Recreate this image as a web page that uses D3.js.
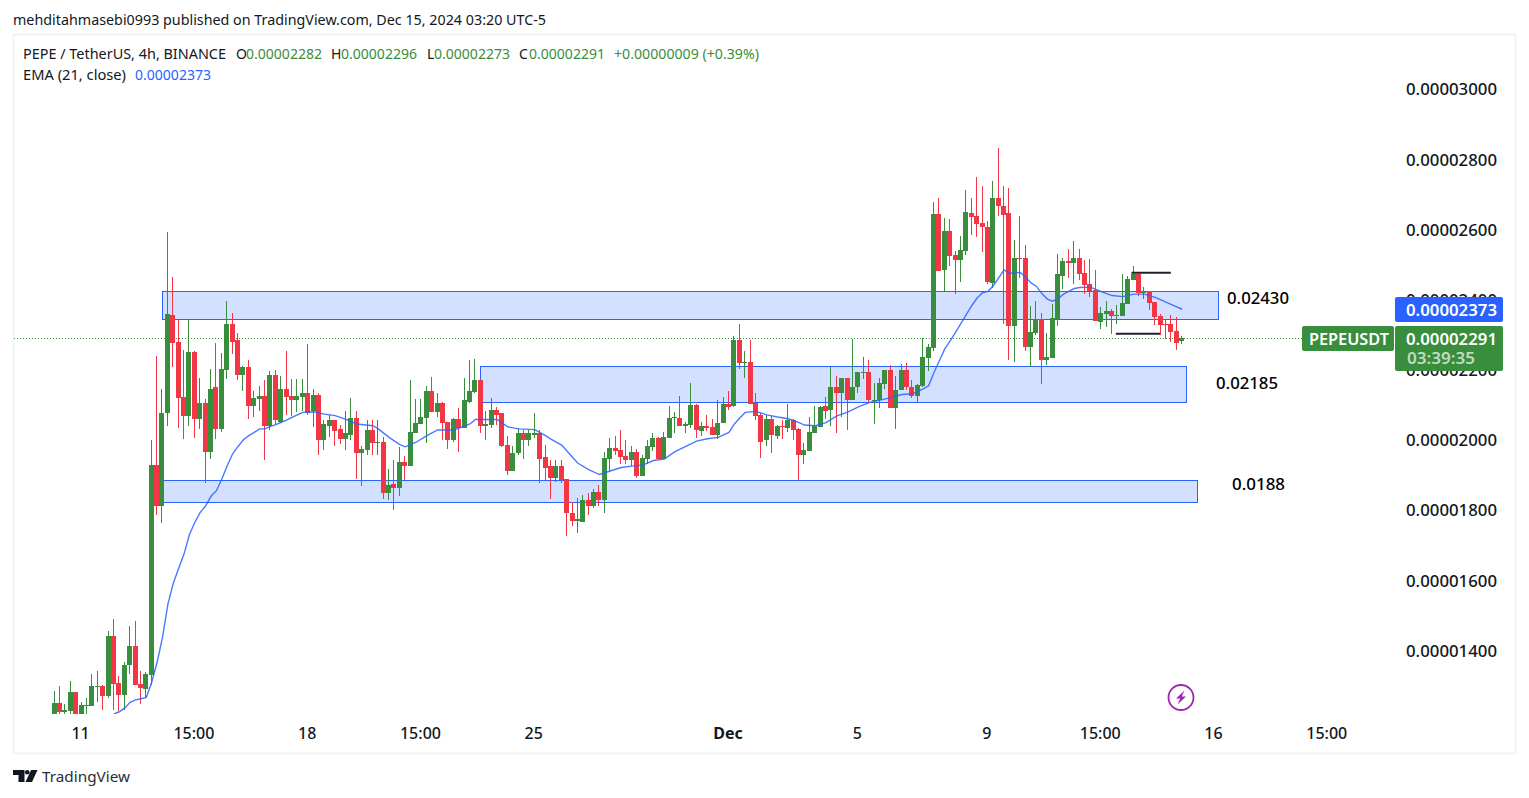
<!DOCTYPE html>
<html>
<head>
<meta charset="utf-8">
<script src="https://cdnjs.cloudflare.com/ajax/libs/d3/7.8.5/d3.min.js"></script>
<style>
  html, body { margin: 0; padding: 0; background: #fff; }
  svg { display: block; }
  text { font-family: "Noto Sans", sans-serif; }
</style>
</head>
<body>
<svg></svg>
<script>
// all prices are in units of 0.00000001 USDT, one entry per 4h bar
const opens = [
  1215,1252,1224,1229,1281,1215,1241,1241,1296,1298,
  1272,1443,1309,1275,1358,1412,1306,1292,1332,1930,
  1813,2078,2358,2281,2124,2070,2252,2061,2107,1967,
  2150,2033,2201,2332,2284,2187,2209,2098,2118,2127,
  2039,2187,2053,2147,2127,2115,2124,2135,2084,2130,
  1999,2041,2056,2033,2004,2016,2064,1964,1973,2030,
  1993,1996,1848,1876,1865,1939,1925,2021,2047,2064,
  2141,2081,2107,2053,1999,2061,2036,2110,2138,2170,
  2041,2044,2087,2076,1987,1913,1962,2019,1999,2016,
  2019,1953,1925,1893,1925,1890,1793,1771,1768,1828,
  1811,1853,1828,1947,1979,1973,1956,1944,1967,1899,
  1947,1981,2007,1947,2007,2064,2064,2041,2044,2101,
  2027,2041,2038,2016,2050,2104,2098,2286,2221,2224,
  2107,2073,1999,2061,2013,2041,2036,2056,2033,1959,
  1970,2021,2038,2098,2087,2152,2133,2178,2113,2150,
  2192,2195,2113,2115,2161,2201,2093,2144,2201,2152,
  2127,2155,2235,2263,2645,2486,2597,2528,2514,2540,
  2648,2640,2620,2608,2449,2691,2668,2648,2326,2520,
  2520,2264,2306,2346,2229,2235,2346,2469,2511,2506,
  2520,2477,2446,2429,2338,2360,2369,2355,2355,2389,
  2457,2472,2420,2426,2395,2355,2332,2332,2312,2282,
];
const highs = [
  1284,1298,1249,1315,1283,1255,1264,1335,1343,1301,
  1457,1489,1329,1369,1469,1486,1343,1340,2001,2241,
  2147,2594,2466,2343,2258,2343,2255,2178,2118,2204,
  2278,2249,2397,2363,2306,2212,2227,2141,2155,2170,
  2198,2201,2184,2255,2175,2175,2175,2275,2147,2133,
  2056,2073,2058,2044,2084,2121,2084,1984,2056,2058,
  2056,2010,1919,1942,1981,1956,2170,2118,2118,2155,
  2181,2133,2110,2053,2064,2093,2178,2229,2232,2170,
  2084,2121,2095,2078,2013,1984,2036,2030,2030,2076,
  2030,1987,1944,1944,1944,1890,1825,1836,1845,1848,
  1862,1873,1967,2007,2013,2030,1999,1984,1976,1959,
  1999,2021,2010,2024,2098,2081,2127,2053,2164,2104,
  2053,2073,2061,2115,2124,2141,2298,2332,2255,2284,
  2133,2076,2073,2070,2044,2056,2104,2061,2036,1993,
  2067,2098,2098,2124,2207,2184,2178,2178,2289,2195,
  2238,2227,2164,2178,2201,2215,2184,2218,2221,2170,
  2161,2292,2275,2680,2691,2634,2631,2540,2583,2714,
  2691,2751,2725,2625,2737,2833,2725,2719,2571,2640,
  2557,2383,2397,2363,2306,2389,2529,2520,2546,2568,
  2546,2514,2517,2486,2378,2397,2375,2386,2474,2469,
  2497,2477,2437,2426,2395,2360,2343,2358,2352,2296,
];
const lows = [
  1205,1210,1210,1210,1210,1210,1210,1241,1255,1232,
  1266,1232,1229,1232,1335,1303,1249,1269,1303,1788,
  1765,2039,2209,2036,2004,2041,2007,2033,1879,1947,
  2004,2024,2175,2246,2172,2141,2061,2067,2084,1942,
  2030,2044,2050,2073,2070,2081,2084,2073,2038,1959,
  1973,2010,1984,1990,1973,1999,1890,1870,1959,1959,
  1959,1833,1828,1802,1842,1885,1925,2019,2047,1993,
  2081,2067,2001,1976,1996,1967,2036,2107,2135,2019,
  1999,2036,2044,1981,1902,1913,1959,1947,1984,2007,
  1879,1885,1833,1882,1879,1728,1754,1734,1768,1788,
  1808,1813,1793,1913,1959,1933,1933,1925,1893,1899,
  1933,1970,1947,1947,2007,2021,2041,2021,2036,2007,
  2013,2027,2016,2004,2050,2087,2095,2204,2178,2104,
  2056,1950,1984,1962,2004,2004,2024,2001,1885,1933,
  1970,2021,2038,2061,2041,2019,2067,2030,2113,2135,
  2175,2107,2047,2093,2147,2093,2033,2144,2144,2121,
  2107,2150,2198,2255,2483,2426,2497,2415,2452,2528,
  2585,2580,2537,2446,2434,2640,2332,2229,2224,2463,
  2255,2207,2301,2161,2215,2235,2326,2432,2463,2446,
  2457,2417,2409,2340,2318,2321,2303,2332,2355,2389,
  2457,2412,2403,2372,2329,2301,2289,2281,2258,2273,
];
const closes = [
  1252,1226,1232,1281,1215,1244,1244,1298,1298,1272,
  1443,1306,1275,1360,1412,1303,1295,1335,1930,1813,
  2078,2360,2278,2121,2070,2252,2061,2107,1967,2147,
  2033,2204,2332,2281,2187,2209,2098,2121,2127,2039,
  2187,2056,2147,2124,2115,2127,2135,2078,2130,1999,
  2047,2056,2027,2004,2019,2064,1964,1976,2030,1993,
  1996,1848,1873,1865,1939,1925,2024,2050,2067,2141,
  2081,2107,2050,1999,2061,2036,2113,2141,2170,2041,
  2047,2087,2073,1984,1913,1964,2019,1999,2019,2019,
  1947,1922,1893,1925,1887,1791,1771,1774,1828,1811,
  1853,1828,1950,1979,1970,1953,1942,1967,1899,1950,
  1984,2007,1947,2010,2064,2067,2041,2047,2101,2030,
  2041,2036,2016,2050,2104,2095,2286,2221,2224,2104,
  2070,1996,2061,2016,2041,2038,2056,2030,1959,1973,
  2024,2041,2095,2084,2152,2133,2178,2113,2152,2195,
  2195,2113,2115,2164,2201,2093,2144,2201,2150,2127,
  2158,2238,2266,2645,2483,2597,2526,2514,2543,2651,
  2637,2617,2608,2452,2691,2668,2642,2326,2520,2518,
  2264,2309,2346,2229,2238,2349,2472,2511,2506,2520,
  2474,2443,2426,2340,2363,2369,2355,2358,2392,2460,
  2472,2420,2426,2392,2352,2329,2329,2309,2278,2291,
];

// EMA(21), only at the bars where it was read
const emaBars = [
  11,12,13,14,15,16,17,18,19,20,21,22,23,24,25,26,27,28,29,30,31,32,33,34,35,36,37,38,39,40,41,42,43,44,45,
  46,48,50,52,54,56,59,60,62,64,65,67,69,71,74,77,78,82,84,86,89,91,92,
  94,96,97,99,101,103,105,107,109,111,113,115,117,119,121,123,125,126,127,128,130,132,134,136,138,
  139,141,143,145,147,149,151,153,155,157,159,161,162,163,164,165,166,167,168,170,171,172,173,174,
  176,177,178,179,180,181,182,183,184,185,186,187,188,189,190,192,194,196,198,200,202,204,206,208,209,
];
const emaValues = [
  1220,1226,1237,1253,1260,1263,1267,1310,1367,1438,1533,1592,1635,1676,1731,1766,1794,1813,1840,1856,1889,1927,1961,1982,2001,2013,2022,2032,2032,2039,2044,2051,2057,2065,2072,
  2079,2081,2074,2070,2059,2046,2041,2032,2008,1987,1981,1994,2013,2029,2029,2046,2059,2059,2038,2032,2030,2013,2003,
  1986,1951,1934,1916,1902,1912,1922,1926,1929,1942,1946,1967,1982,1997,2004,2008,2022,2046,2063,2079,2082,2072,2066,2061,2050,
  2043,2041,2050,2069,2080,2095,2107,2114,2121,2130,2132,2146,2155,2193,2226,2260,2283,2307,2333,2383,2405,2420,2424,2440,
  2485,2475,2477,2478,2464,2448,2438,2418,2402,2396,2403,2416,2424,2432,2435,2436,2423,2412,2409,2416,2416,2407,2393,2380,2373,
];

const priceTicks = [1400, 1600, 1800, 2000, 2200, 2400, 2600, 2800, 3000];
// bar index of each time label, bar 0 is the first candle on the left
const timeTickBars = [5, 26, 47, 68, 89, 125, 149, 173, 194, 215, 236];
const timeTickLabels = ['11', '15:00', '18', '15:00', '25', 'Dec', '5', '9', '15:00', '16', '15:00'];

// drawn boxes: [first bar, last bar, top price, bottom price]
const zoneBars = [[20.1, 215.8], [79.1, 210], [20.1, 212]];
const zonePrices = [[2423, 2343], [2209, 2106], [1884, 1821]];
const zoneLabels = ['0.02430', '0.02185', '0.0188'];
// two horizontal black segments
const segmentBars = [[199.7, 207], [196.8, 205]];
const segmentPrices = [2477, 2303];

const legendParts = [
  ['O', 236, 0], ['0.00002282', 246, 1], ['H', 331, 0], ['0.00002296', 341, 1],
  ['L', 427, 0], ['0.00002273', 434, 1], ['C', 519, 0], ['0.00002291', 529, 1],
  ['+0.00000009 (+0.39%)', 614, 1],
];

const WIDTH = 1529;
const HEIGHT = 798;
const UP = '#388e3c';
const DOWN = '#f23645';
const BLUE = '#2962ff';
const INK = '#131722';
const LAST_PRICE = 2291;

const svg = d3.select('svg').attr('width', WIDTH).attr('height', HEIGHT);

const x = d3.scaleLinear().domain([0, 236]).range([54.1, 1327.3]);
const y = d3.scaleLinear().domain([1400, 3000]).range([650.7, 89.2]);

function addText(str, xPos, yPos, size, fill, width) {
  const t = svg.append('text')
      .attr('x', xPos)
      .attr('y', yPos)
      .attr('font-size', size)
      .attr('fill', fill)
      .text(str);
  if (width) t.attr('textLength', width).attr('lengthAdjust', 'spacingAndGlyphs');
  return t;
}

// pane frame
svg.append('rect')
    .attr('x', 13.5).attr('y', 34.5)
    .attr('width', 1502).attr('height', 719)
    .attr('fill', '#fff')
    .attr('stroke', '#f0f3fa')
    .attr('stroke-width', 2);

svg.append('clipPath').attr('id', 'plot')
  .append('rect')
    .attr('x', 15).attr('y', 36)
    .attr('width', 1500).attr('height', 678);

// last price line
svg.append('line')
    .attr('x1', 14).attr('x2', 1302)
    .attr('y1', Math.round(y(LAST_PRICE)) + 0.5).attr('y2', Math.round(y(LAST_PRICE)) + 0.5)
    .attr('stroke', UP)
    .attr('stroke-dasharray', '1 2');

// price axis sits under the two price tags
const yAxis = d3.axisRight(y)
    .tickValues(priceTicks)
    .tickSize(0)
    .tickPadding(0)
    .tickFormat((d) => (d / 1e8).toFixed(8));
const yAxisG = svg.append('g').attr('transform', 'translate(1497,0.5)').call(yAxis);
yAxisG.select('.domain').remove();
yAxisG.selectAll('text')
    .attr('text-anchor', 'end')
    .attr('font-size', 16)
    .attr('font-weight', 500)
    .attr('font-family', '"Noto Sans", sans-serif')
    .attr('fill', INK)
    .attr('textLength', 91)
    .attr('lengthAdjust', 'spacingAndGlyphs');

const timeAxis = d3.axisBottom(x)
    .tickValues(timeTickBars)
    .tickSize(0)
    .tickPadding(0)
    .tickFormat((d) => timeTickLabels[timeTickBars.indexOf(d)]);
const timeAxisG = svg.append('g').attr('transform', 'translate(-1,728)').call(timeAxis);
timeAxisG.select('.domain').remove();
timeAxisG.selectAll('text')
    .attr('font-size', 16)
    .attr('font-family', '"Noto Sans", sans-serif')
    .attr('fill', INK)
    .attr('font-weight', (d) => (d === 125 ? 700 : 500));

// drawn boxes lie under the candles
zoneBars.forEach((b, i) => {
  svg.append('rect')
      .attr('x', Math.round(x(b[0])) - 0.5)
      .attr('y', Math.round(y(zonePrices[i][0])) - 0.5)
      .attr('width', Math.round(x(b[1]) - x(b[0])))
      .attr('height', Math.round(y(zonePrices[i][1]) - y(zonePrices[i][0])))
      .attr('fill', BLUE)
      .attr('fill-opacity', 0.2)
      .attr('stroke', BLUE)
      .attr('stroke-width', 1);
});

const plot = svg.append('g').attr('clip-path', 'url(#plot)');

const bars = d3.range(opens.length);

// wicks then bodies, snapped to whole pixels like the original
plot.append('g').selectAll('rect')
  .data(bars)
  .join('rect')
    .attr('x', (i) => Math.floor(x(i)))
    .attr('y', (i) => Math.round(y(highs[i])))
    .attr('width', 1)
    .attr('height', (i) => Math.max(1, Math.round(y(lows[i])) - Math.round(y(highs[i]))))
    .attr('fill', (i) => (closes[i] >= opens[i] ? UP : DOWN));

plot.append('g').selectAll('rect')
  .data(bars)
  .join('rect')
    .attr('x', (i) => Math.floor(x(i)) - 2)
    .attr('y', (i) => Math.round(y(Math.max(opens[i], closes[i]))))
    .attr('width', 5)
    .attr('height', (i) => Math.max(1, Math.round(y(Math.min(opens[i], closes[i]))) - Math.round(y(Math.max(opens[i], closes[i])))))
    .attr('fill', (i) => (closes[i] >= opens[i] ? UP : DOWN));

// EMA
const emaLine = d3.line()
    .x((d, i) => x(emaBars[i]) + 0.5)
    .y((d) => y(d));
plot.append('path')
    .datum(emaValues)
    .attr('d', emaLine)
    .attr('fill', 'none')
    .attr('stroke', BLUE)
    .attr('stroke-opacity', 0.85)
    .attr('stroke-width', 1.4);

segmentBars.forEach((b, i) => {
  svg.append('line')
      .attr('x1', x(b[0])).attr('x2', x(b[1]))
      .attr('y1', y(segmentPrices[i])).attr('y2', y(segmentPrices[i]))
      .attr('stroke', '#1e222d')
      .attr('stroke-width', 2);
});

addText(zoneLabels[0], 1227, 304, 16, '#000', 62).attr('font-weight', 500);
addText(zoneLabels[1], 1216, 389, 16, '#000', 62).attr('font-weight', 500);
addText(zoneLabels[2], 1232, 490, 16, '#000', 53).attr('font-weight', 500);

// header and legend
addText('mehditahmasebi0993 published on TradingView.com, Dec 15, 2024 03:20 UTC-5', 13, 24.5, 14, INK, 533);
addText('PEPE / TetherUS, 4h, BINANCE', 23, 59, 14, INK, 203);
legendParts.forEach((p) => {
  const width = p[0].length === 10 ? 76 : (p[0].length > 1 ? 145 : null);
  addText(p[0], p[1], 59, 14, p[2] ? UP : INK, width);
});
addText('EMA (21, close)', 23, 80, 14, INK, 103);
addText('0.00002373', 135, 80, 14, BLUE, 76);

// price tags
function tag(xPos, yPos, w, h, fill) {
  svg.append('rect')
      .attr('x', xPos).attr('y', yPos)
      .attr('width', w).attr('height', h)
      .attr('rx', 2)
      .attr('fill', fill);
}
tag(1395, 297, 108, 25, BLUE);
addText('0.00002373', 1406, 315.5, 16, '#fff', 91).attr('font-weight', 600);
tag(1302, 326, 92, 25, UP);
addText('PEPEUSDT', 1309, 344.5, 16, '#fff', 80).attr('font-weight', 600);
tag(1395, 326, 108, 45, UP);
addText('0.00002291', 1406, 344.5, 16, '#fff', 91).attr('font-weight', 600);
addText('03:39:35', 1407, 364, 16, 'rgba(255,255,255,0.7)', 68).attr('font-weight', 600);

// lightning icon
const bolt = svg.append('g').attr('transform', 'translate(1181,697.5)');
bolt.append('circle')
    .attr('r', 12.5)
    .attr('fill', '#fff')
    .attr('stroke', '#9c27b0')
    .attr('stroke-width', 1.8);
bolt.append('path')
    .attr('d', 'M3.5,-7 L-5,1 L-0.8,1 L-3.5,7 L5,-1 L0.8,-1 Z')
    .attr('fill', '#9c27b0');

// footer logo
svg.append('path')
    .attr('d', 'M13 770H24.5V782H18.5V775H13Z M31 770H37.5L32 782H25.5Z')
    .attr('fill', INK);
svg.append('circle')
    .attr('cx', 27.2).attr('cy', 772.3).attr('r', 2.3)
    .attr('fill', INK);
addText('TradingView', 42, 782, 15, '#2a2e39', 88);
</script>
</body>
</html>
